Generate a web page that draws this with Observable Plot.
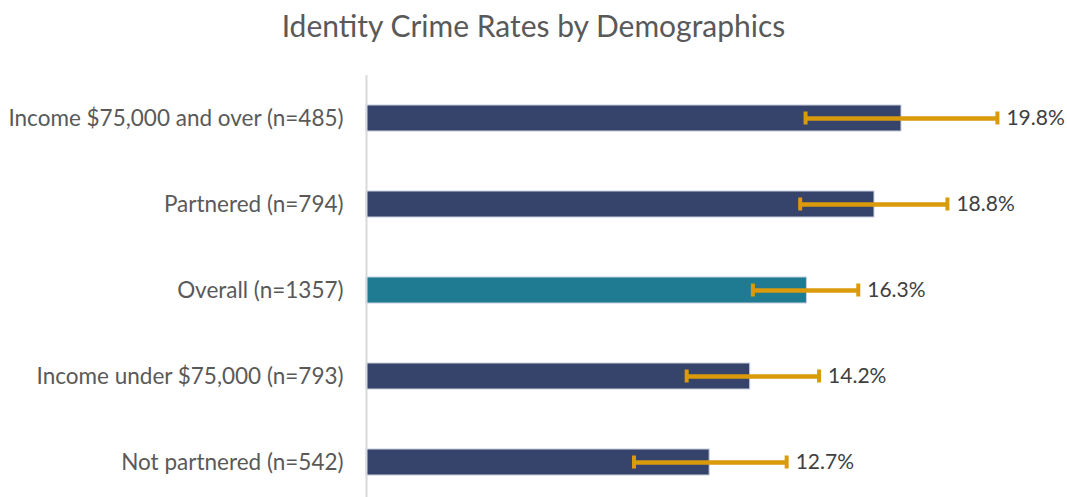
<!DOCTYPE html>
<html><head><meta charset="utf-8">
<script src="https://cdn.jsdelivr.net/npm/d3@7"></script>
<script src="https://cdn.jsdelivr.net/npm/@observablehq/plot@0.6"></script>
<style>
html,body{margin:0;padding:0;background:#fff;overflow:hidden;}
#title{height:60px;line-height:50px;text-align:center;font-family:Lato,sans-serif;font-size:30px;color:#595959;}
</style></head>
<body>
<div id="title">Identity Crime Rates by Demographics</div>
<div id="chart"></div>
<script>
const categories = ["Income $75,000 and over (n=485)","Partnered (n=794)","Overall (n=1357)","Income under $75,000 (n=793)","Not partnered (n=542)"];
const rates = [19.8, 18.8, 16.3, 14.2, 12.7];
const lower = [16.25, 16.05, 14.3, 11.85, 9.9];
const upper = [23.35, 21.5, 18.2, 16.75, 15.55];
const groups = ["sub","sub","overall","sub","sub"];

const data = categories.map((c,i)=>({cat:c, rate:rates[i], lo:lower[i], hi:upper[i], grp:groups[i], label:rates[i].toFixed(1)+"%"}));

const chart = Plot.plot({
  width:1067, height:445,
  marginLeft:366, marginRight:25.5, marginTop:15, marginBottom:0,
  style:{fontFamily:"Lato, sans-serif", color:"#595959"},
  x:{domain:[0,25], axis:null},
  y:{domain:categories, paddingInner:0.7, paddingOuter:0.35, label:null},
  color:{domain:["sub","overall"], range:["#36436B","#1E7B91"]},
  marks:[
    Plot.axisY({tickSize:0, tickPadding:23, fontSize:22.5, fill:"#595959", label:null}),
    Plot.barX(data,{x:"rate", y:"cat", fill:"grp", stroke:"#c9cede", strokeWidth:1}),
    Plot.ruleX([0],{stroke:"#d9d9d9", strokeWidth:2}),
    Plot.ruleY(data,{y:"cat", x1:"lo", x2:"hi", stroke:"#DA9A0A", strokeWidth:4.5}),
    Plot.tickX(data,{x:"lo", y:"cat", stroke:"#DA9A0A", strokeWidth:4, insetTop:6.5, insetBottom:6.5}),
    Plot.tickX(data,{x:"hi", y:"cat", stroke:"#DA9A0A", strokeWidth:4, insetTop:6.5, insetBottom:6.5}),
    Plot.text(data,{x:"hi", y:"cat", text:"label", dx:9, textAnchor:"start", fontSize:21, fill:"#404040"})
  ]
});
document.getElementById("chart").appendChild(chart);
</script>
</body></html>
